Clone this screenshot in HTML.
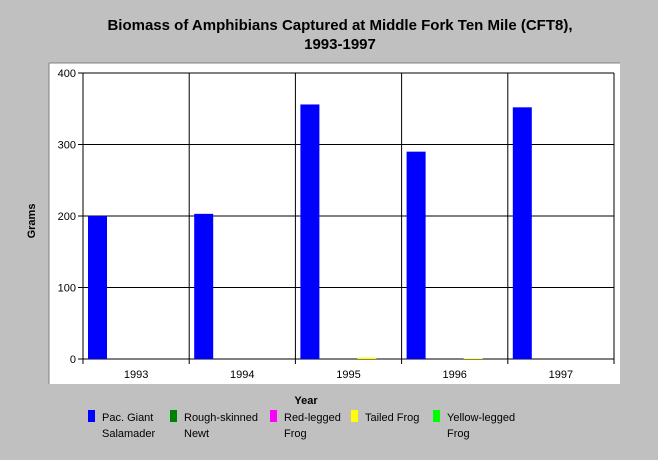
<!DOCTYPE html>
<html><head><meta charset="utf-8"><style>
body{margin:0;background:#c0c0c0;font-family:"Liberation Sans",sans-serif;}
</style></head><body>
<svg width="658" height="455" xmlns="http://www.w3.org/2000/svg" font-family="Liberation Sans, sans-serif">
<rect width="658" height="455" fill="#c0c0c0"/>
<text x="340" y="30" text-anchor="middle" font-size="15" font-weight="bold">Biomass of Amphibians Captured at Middle Fork Ten Mile (CFT8),</text>
<text x="340" y="49" text-anchor="middle" font-size="15" font-weight="bold">1993-1997</text>
<rect x="49" y="63" width="571" height="321" fill="#fff"/>
<line x1="49" y1="63" x2="620" y2="63" stroke="#808080"/>
<line x1="49" y1="63" x2="49" y2="384" stroke="#808080"/>
<g id="chart"></g>
<text transform="translate(35,221) rotate(-90)" text-anchor="middle" font-size="11" font-weight="bold">Grams</text>
<text x="306" y="404" text-anchor="middle" font-size="11" font-weight="bold">Year</text>
<g id="legend"></g>
</svg>
<script>
const categories=["1993","1994","1995","1996","1997"];
const seriesNames=["Pac. Giant|Salamader","Rough-skinned|Newt","Red-legged|Frog","Tailed Frog","Yellow-legged|Frog"];
const colors=["#0000ff","#008000","#ff00ff","#ffff00","#00ff00"];
const pacGiant=[200,203,356,290,352];
const roughNewt=[0,0,0,0,0];
const redLegged=[0,0,0,0,0];
const tailedFrog=[0,0,2,1,0];
const yellowLegged=[0,0,0,0,0];
const yTicks=[0,100,200,300,400];
const series=[pacGiant,roughNewt,redLegged,tailedFrog,yellowLegged];
const NS="http://www.w3.org/2000/svg";
const L=83,R=614,T=73,B=359,ymax=400;
const y=v=>B-(v/ymax)*(B-T);
const cw=(R-L)/categories.length;
const x=i=>L+i*cw;
const g=document.getElementById('chart');
function mk(t,a){const e=document.createElementNS(NS,t);for(const k in a)e.setAttribute(k,a[k]);return e;}
yTicks.forEach(t=>{
 const ln=mk('line',{x1:L-5,x2:R,y1:y(t),y2:y(t),stroke:'#000'});
 
 
 g.appendChild(ln);
 const tx=mk('text',{x:L-7,y:y(t)+4,'text-anchor':'end','font-size':11});
 
 
 tx.textContent=t;g.appendChild(tx);
});
for(let i=0;i<=categories.length;i++){
 const ln=mk('line',{x1:x(i),x2:x(i),y1:T,y2:B+5,stroke:'#000'});
 
 
 g.appendChild(ln);
}
const bw=19,pad=5;
categories.forEach((c,i)=>{
 series.forEach((s,j)=>{
  if(s[i]<=0)return;
  const r=mk('rect',{x:x(i)+pad+j*bw,y:y(s[i]),width:bw,height:B-y(s[i]),fill:colors[j]});
  
  
  g.appendChild(r);
 });
 const tx=mk('text',{x:x(i)+cw/2,y:378,'text-anchor':'middle','font-size':11});
 
 
 tx.textContent=c;g.appendChild(tx);
});
const lg=document.getElementById('legend');
const lx=[88,170,270,351,433];
seriesNames.forEach((n,j)=>{
 const e=mk('g',{});
 
 
 e.appendChild(mk('rect',{x:lx[j],y:410,width:7,height:12,fill:colors[j]}));
 n.split('|').forEach((p,k)=>{
  const t=mk('text',{x:lx[j]+14,y:421+k*16,'font-size':11});
  t.textContent=p;e.appendChild(t);
 });
 lg.appendChild(e);
});
</script>
</body></html>
